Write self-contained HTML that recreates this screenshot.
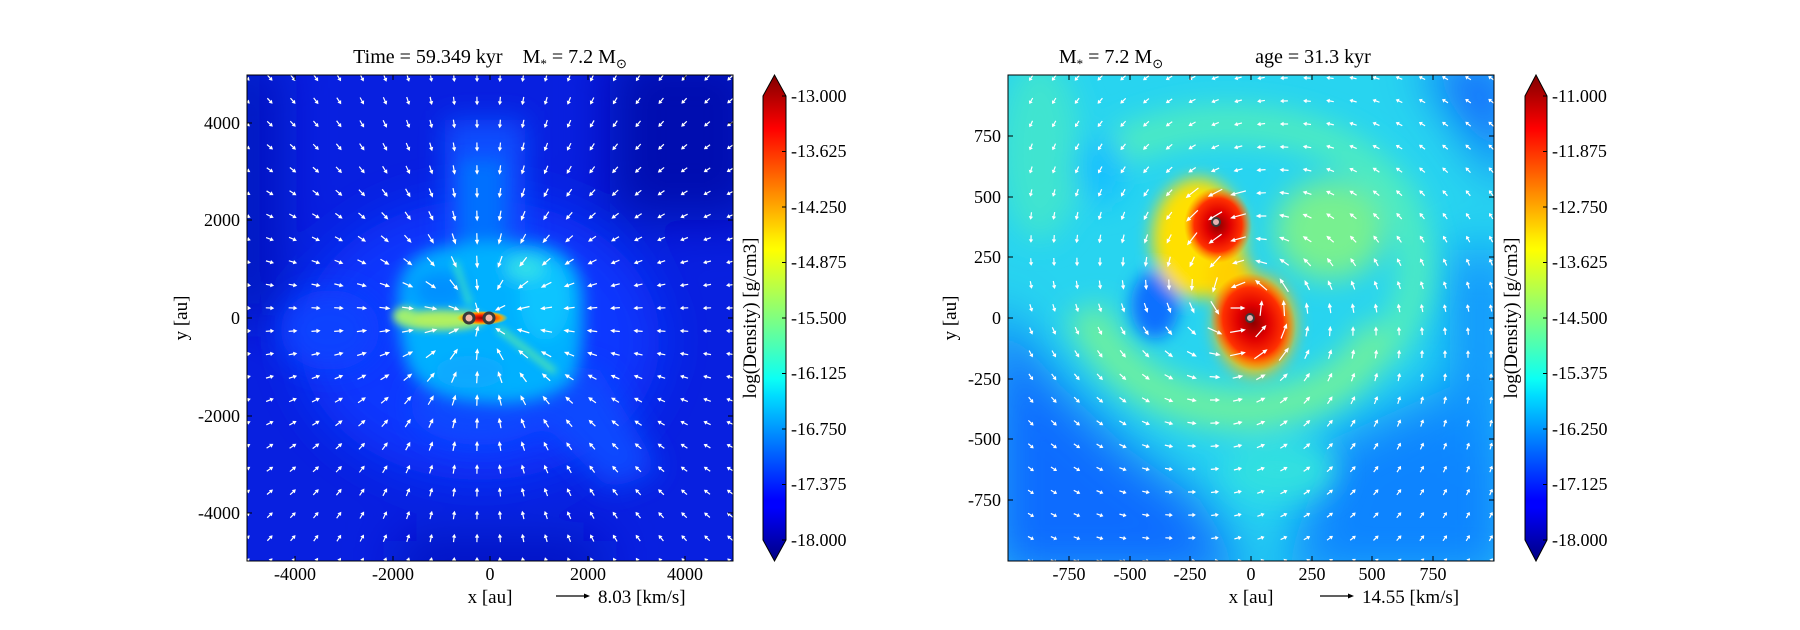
<!DOCTYPE html>
<html><head><meta charset="utf-8"><style>
html,body{margin:0;padding:0;background:#fff;}
svg{display:block;font-family:"Liberation Serif",serif;}
</style></head><body>
<svg id="s" width="1800" height="630" viewBox="0 0 1800 630" xmlns="http://www.w3.org/2000/svg">
<defs>
<filter id="b4" filterUnits="userSpaceOnUse" x="0" y="0" width="1800" height="630"><feGaussianBlur stdDeviation="4"/></filter>
<filter id="b8" filterUnits="userSpaceOnUse" x="0" y="0" width="1800" height="630"><feGaussianBlur stdDeviation="8"/></filter>
<filter id="b14" filterUnits="userSpaceOnUse" x="0" y="0" width="1800" height="630"><feGaussianBlur stdDeviation="14"/></filter>
<filter id="b25" filterUnits="userSpaceOnUse" x="0" y="0" width="1800" height="630"><feGaussianBlur stdDeviation="25"/></filter>
<clipPath id="cl"><rect x="247" y="75" width="486" height="486"/></clipPath>
<clipPath id="cr"><rect x="1008" y="75" width="486" height="486"/></clipPath>
<linearGradient id="jet" x1="0" y1="1" x2="0" y2="0">
<stop offset="0" stop-color="#000080"/><stop offset="0.11" stop-color="#0000ff"/><stop offset="0.125" stop-color="#0000ff"/>
<stop offset="0.34" stop-color="#00dcff"/><stop offset="0.375" stop-color="#0cfff4"/><stop offset="0.5" stop-color="#80ff80"/>
<stop offset="0.64" stop-color="#ffff00"/><stop offset="0.66" stop-color="#fff000"/><stop offset="0.89" stop-color="#ff0000"/>
<stop offset="1" stop-color="#800000"/></linearGradient>
<radialGradient id="rdL" cx="0.5" cy="0.5" r="0.5"><stop offset="0" stop-color="#900000"/><stop offset="0.4" stop-color="#ff2000"/><stop offset="0.75" stop-color="#ffa000"/><stop offset="1" stop-color="#ffe000" stop-opacity="0"/></radialGradient>
<radialGradient id="rd1" cx="0.5" cy="0.5" r="0.5"><stop offset="0" stop-color="#8a0000"/><stop offset="0.35" stop-color="#e00000"/><stop offset="0.7" stop-color="#ff3000"/><stop offset="1" stop-color="#ff7000" stop-opacity="0"/></radialGradient>
</defs>

<!-- LEFT PANEL -->
<g clip-path="url(#cl)">
<rect x="247" y="75" width="486" height="486" fill="#0820e0"/>
<g filter="url(#b25)">
<rect x="610" y="50" width="150" height="170" fill="#0010b0"/>
<rect x="220" y="60" width="60" height="260" fill="#0014c0"/>
<rect x="400" y="540" width="200" height="50" fill="#0014c0"/>
<ellipse cx="480" cy="340" rx="180" ry="140" fill="#0c38ff"/>
</g>
<g filter="url(#b14)">
<rect x="445" y="120" width="80" height="160" fill="#0a50ff"/>
<polygon points="520,360 600,370 660,470 610,490 540,420" fill="#0a48ff"/>
<ellipse cx="330" cy="330" rx="50" ry="40" fill="#0a42ff"/>
<ellipse cx="480" cy="405" rx="70" ry="40" fill="#0a48ff"/>
</g>
<g filter="url(#b8)">
<rect x="460" y="160" width="44" height="100" fill="#0070ff"/>
<path d="M398,305 Q395,262 432,250 Q480,238 540,244 Q585,255 583,305 Q585,355 572,382 Q540,408 480,402 Q420,398 406,362 Q398,335 398,305Z" fill="#00b0ff"/>
<ellipse cx="440" cy="290" rx="28" ry="20" fill="#0090ff"/>
<ellipse cx="470" cy="372" rx="35" ry="16" fill="#10a8ff"/>
<ellipse cx="545" cy="300" rx="25" ry="40" fill="#10c4ff"/>
<ellipse cx="525" cy="268" rx="20" ry="12" fill="#30e0e8"/>
</g>
<g filter="url(#b4)">
<path d="M455,262 L470,305" stroke="#40e8c0" stroke-width="5"/>
<path d="M498,328 L555,372" stroke="#60f0a0" stroke-width="5"/>
<ellipse cx="440" cy="320" rx="45" ry="10" fill="#b0f060"/>
<ellipse cx="405" cy="316" rx="12" ry="9" fill="#a0f070"/>
</g>
<ellipse cx="482" cy="318" rx="26" ry="7" fill="url(#rdL)"/>
<g id="arrL"></g>
<g stroke="#3a3a3a" stroke-width="3" fill="#f4b8a8">
<circle cx="469" cy="318" r="5"/><circle cx="489" cy="318" r="5"/></g>
</g>
<rect x="247" y="75" width="486" height="486" fill="none" stroke="#000" stroke-width="1"/>
<g stroke="#000" stroke-width="1">
<path d="M295,561v-5M393,561v-5M490,561v-5M588,561v-5M685,561v-5M295,75v5M393,75v5M490,75v5M588,75v5M685,75v5"/>
<path d="M247,123h5M247,220h5M247,318h5M247,416h5M247,513h5M733,123h-5M733,220h-5M733,318h-5M733,416h-5M733,513h-5"/>
</g>
<g font-size="18" text-anchor="middle">
<text x="295" y="580">-4000</text><text x="393" y="580">-2000</text><text x="490" y="580">0</text><text x="588" y="580">2000</text><text x="685" y="580">4000</text>
</g>
<g font-size="18" text-anchor="end">
<text x="240" y="129">4000</text><text x="240" y="226">2000</text><text x="240" y="324">0</text><text x="240" y="422">-2000</text><text x="240" y="519">-4000</text>
</g>
<text x="490" y="63" font-size="20" text-anchor="middle" xml:space="preserve">Time = 59.349 kyr    M<tspan font-size="13" dy="5">*</tspan><tspan dy="-5"> = 7.2 M</tspan><tspan font-size="13" dy="5">⊙</tspan></text>
<text x="490" y="603" font-size="19" text-anchor="middle">x [au]</text>
<text transform="translate(187,318) rotate(-90)" font-size="19" text-anchor="middle">y [au]</text>
<path d="M556,596H586" stroke="#000" stroke-width="1.3"/><path d="M590,596l-6,-2.5v5z" fill="#000"/>
<text x="598" y="603" font-size="19">8.03 [km/s]</text>
<!-- left colorbar -->
<path d="M763,96 L774.5,75 L786,96 V540 L774.5,561 L763,540Z" fill="url(#jet)" stroke="#000" stroke-width="1"/>
<g stroke="#000"><path d="M786,96h-4M786,151.5h-4M786,207h-4M786,262.5h-4M786,318h-4M786,373.5h-4M786,429h-4M786,484.5h-4M786,540h-4"/></g>
<g font-size="18">
<text x="791" y="102">-13.000</text><text x="791" y="157">-13.625</text><text x="791" y="213">-14.250</text><text x="791" y="268">-14.875</text><text x="791" y="324">-15.500</text><text x="791" y="379">-16.125</text><text x="791" y="435">-16.750</text><text x="791" y="490">-17.375</text><text x="791" y="546">-18.000</text>
</g>
<text transform="translate(756,318) rotate(-90)" font-size="19" text-anchor="middle">log(Density) [g/cm3]</text>

<!-- RIGHT PANEL -->
<g clip-path="url(#cr)">
<rect x="1008" y="75" width="486" height="486" fill="#28d4f0"/>
<g filter="url(#b25)">
<polygon points="990,300 1060,385 1130,450 1200,500 1250,580 990,580" fill="#0a6cff"/>
<polygon points="1330,440 1510,360 1510,580 1280,580" fill="#0a84ff"/>
<polygon points="1420,60 1510,60 1510,190" fill="#0a60ff"/>
<rect x="1450" y="250" width="60" height="200" fill="#0a90ff"/>
</g>
<g filter="url(#b14)">
<path d="M1080,200 Q1090,140 1200,125 Q1340,115 1400,200 Q1440,290 1380,350" stroke="#50ecc0" stroke-width="35" fill="none"/>
<path d="M1085,310 Q1130,410 1250,410 Q1350,400 1380,330" stroke="#6cf0a0" stroke-width="40" fill="none"/>
<ellipse cx="1330" cy="230" rx="55" ry="50" fill="#78f090"/>
<ellipse cx="1040" cy="150" rx="40" ry="90" fill="#40e4d0"/>
<ellipse cx="1100" cy="170" rx="25" ry="35" fill="#18c0ff"/>
<ellipse cx="1280" cy="470" rx="55" ry="30" fill="#30e0e0"/>
</g>
<g filter="url(#b8)">
<ellipse cx="1155" cy="305" rx="24" ry="34" fill="#0a70ff"/>
<ellipse cx="1198" cy="238" rx="46" ry="60" fill="#ffe000"/>
<ellipse cx="1255" cy="325" rx="40" ry="50" fill="#ffc000"/>
<ellipse cx="1230" cy="278" rx="22" ry="28" fill="#ffd000"/>
</g>
<ellipse cx="1218" cy="225" rx="34" ry="38" fill="url(#rd1)"/>
<ellipse cx="1253" cy="322" rx="42" ry="50" fill="url(#rd1)" transform="rotate(-20 1253 322)"/>
<g id="arrR"></g>
<g stroke="#3a3a3a" stroke-width="2" fill="#e8b0b0">
<circle cx="1216" cy="222" r="4"/><circle cx="1250" cy="318" r="4"/></g>
</g>
<rect x="1008" y="75" width="486" height="486" fill="none" stroke="#000" stroke-width="1"/>
<g stroke="#000" stroke-width="1">
<path d="M1069,561v-5M1130,561v-5M1190,561v-5M1251,561v-5M1312,561v-5M1372,561v-5M1433,561v-5M1069,75v5M1130,75v5M1190,75v5M1251,75v5M1312,75v5M1372,75v5M1433,75v5"/>
<path d="M1008,136h5M1008,197h5M1008,257h5M1008,318h5M1008,379h5M1008,439h5M1008,500h5M1494,136h-5M1494,197h-5M1494,257h-5M1494,318h-5M1494,379h-5M1494,439h-5M1494,500h-5"/>
</g>
<g font-size="18" text-anchor="middle">
<text x="1069" y="580">-750</text><text x="1130" y="580">-500</text><text x="1190" y="580">-250</text><text x="1251" y="580">0</text><text x="1312" y="580">250</text><text x="1372" y="580">500</text><text x="1433" y="580">750</text>
</g>
<g font-size="18" text-anchor="end">
<text x="1001" y="142">750</text><text x="1001" y="203">500</text><text x="1001" y="263">250</text><text x="1001" y="324">0</text><text x="1001" y="385">-250</text><text x="1001" y="445">-500</text><text x="1001" y="506">-750</text>
</g>
<text x="1111" y="63" font-size="20" text-anchor="middle" xml:space="preserve">M<tspan font-size="13" dy="5">*</tspan><tspan dy="-5"> = 7.2 M</tspan><tspan font-size="13" dy="5">⊙</tspan></text>
<text x="1313" y="63" font-size="20" text-anchor="middle">age = 31.3 kyr</text>
<text x="1251" y="603" font-size="19" text-anchor="middle">x [au]</text>
<text transform="translate(956,318) rotate(-90)" font-size="19" text-anchor="middle">y [au]</text>
<path d="M1320,596H1350" stroke="#000" stroke-width="1.3"/><path d="M1354,596l-6,-2.5v5z" fill="#000"/>
<text x="1362" y="603" font-size="19">14.55 [km/s]</text>
<!-- right colorbar -->
<path d="M1525,96 L1536,75 L1547,96 V540 L1536,561 L1525,540Z" fill="url(#jet)" stroke="#000" stroke-width="1"/>
<g stroke="#000"><path d="M1547,96h-4M1547,151.5h-4M1547,207h-4M1547,262.5h-4M1547,318h-4M1547,373.5h-4M1547,429h-4M1547,484.5h-4M1547,540h-4"/></g>
<g font-size="18">
<text x="1552" y="102">-11.000</text><text x="1552" y="157">-11.875</text><text x="1552" y="213">-12.750</text><text x="1552" y="268">-13.625</text><text x="1552" y="324">-14.500</text><text x="1552" y="379">-15.375</text><text x="1552" y="435">-16.250</text><text x="1552" y="490">-17.125</text><text x="1552" y="546">-18.000</text>
</g>
<text transform="translate(1517,318) rotate(-90)" font-size="19" text-anchor="middle">log(Density) [g/cm3]</text>
</svg>
<script>
(function(){
var NS="http://www.w3.org/2000/svg";
function arrow(g,x,y,vx,vy){
  var L=Math.sqrt(vx*vx+vy*vy); if(L<1)return;
  var ux=vx/L,uy=vy/L,px=-uy,py=ux;
  var x0=x-vx/2,y0=y-vy/2,x1=x+vx/2,y1=y+vy/2;
  var hl=Math.min(5,L*0.45),hw=2.2;
  var bx=x1-ux*hl,by=y1-uy*hl;
  var p=document.createElementNS(NS,"polygon");
  var w=0.6;
  p.setAttribute("points",[x0+px*w,y0+py*w,bx+px*w,by+py*w,bx+px*hw,by+py*hw,x1,y1,bx-px*hw,by-py*hw,bx-px*w,by-py*w,x0-px*w,y0-py*w].map(function(v){return v.toFixed(1)}).join(","));
  p.setAttribute("fill","#fff");
  g.appendChild(p);
}
var gl=document.getElementById("arrL");
for(var i=0;i<22;i++)for(var j=0;j<22;j++){
  var x=247+23*i,y=78+23*j,dx=x-480,dy=y-318,r=Math.sqrt(dx*dx+dy*dy)+1;
  var m=7+10*Math.exp(-r/110);
  if(r<40)m=12;
  arrow(gl,x,y,-dx/r*m,-dy/r*m);
}
var gr=document.getElementById("arrR");
for(var i=0;i<22;i++)for(var j=0;j<22;j++){
  var x=1031+23*i,y=78+23*j,dx=x-1240,dy=y-300,r=Math.sqrt(dx*dx+dy*dy)+1;
  var vx=dy/r-0.25*dx/r, vy=-dx/r-0.25*dy/r;
  var m=6+9*Math.exp(-r/120);
  var d1=Math.hypot(x-1216,y-222),d2=Math.hypot(x-1250,y-318);
  if(d1<45||d2<50)m=16;
  arrow(gr,x,y,vx*m,vy*m);
}
})();
</script>
</body></html>
